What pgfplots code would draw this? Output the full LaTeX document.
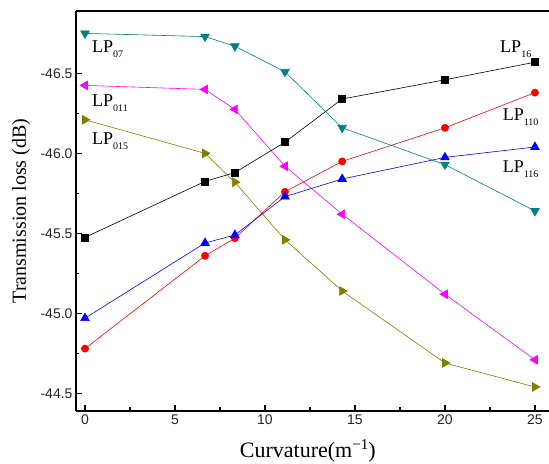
\documentclass[border=0pt]{standalone}
\usepackage{pgfplots}
\pgfplotsset{compat=1.18}
\usepackage{fontspec}
\setmainfont{Liberation Serif}
\newfontfamily\arial{Liberation Sans}
\definecolor{cteal}{RGB}{0,128,128}
\definecolor{colive}{RGB}{128,128,0}
\definecolor{cmag}{RGB}{255,0,255}
\definecolor{cred}{RGB}{255,0,0}
\definecolor{cblue}{RGB}{0,0,255}
\newcommand{\lp}[1]{\fontsize{18}{18}\selectfont LP\raisebox{-5pt}{\fontsize{10}{10}\selectfont #1}}
\begin{document}
\begin{tikzpicture}
\begin{axis}[
  scale only axis, width=473pt, height=400pt,
  xmin=-0.5, xmax=25.78, ymin=-46.89, ymax=-44.39,
  y dir=reverse,
  axis x line*=bottom, axis y line*=left,
  axis line style={-, line width=1.3pt},
  tick align=inside,
  major tick length=6pt, minor tick length=3.5pt,
  every tick/.style={black, line width=1.1pt},
  xtick={0,5,10,15,20,25}, xticklabels={0,5,10,15,20,25},
  ytick={-46.5,-46,-45.5,-45,-44.5}, yticklabels={-46.5,-46.0,-45.5,-45.0,-44.5},
  minor x tick num=1, minor y tick num=1,
  ticklabel style={font=\arial\fontsize{14}{14}\selectfont, text=black!85},
  clip=false,
]
\addplot[cteal, line width=0.6pt, mark=triangle*, mark size=5pt, mark options={rotate=180, solid, fill=cteal}] coordinates {
(0,-46.75) (6.67,-46.73) (8.33,-46.67) (11.11,-46.51) (14.29,-46.16) (20,-45.93) (25,-45.64)};
\addplot[cmag, line width=0.6pt, mark=triangle*, mark size=5pt, mark options={rotate=90, solid, fill=cmag}] coordinates {
(0,-46.425) (6.67,-46.40) (8.33,-46.275) (11.11,-45.92) (14.29,-45.62) (20,-45.12) (25,-44.71)};
\addplot[colive, line width=0.6pt, mark=triangle*, mark size=5pt, mark options={rotate=-90, solid, fill=colive}] coordinates {
(0,-46.21) (6.67,-46.0) (8.33,-45.82) (11.11,-45.46) (14.29,-45.14) (20,-44.69) (25,-44.54)};
\addplot[black, line width=0.6pt, mark=square*, mark size=3.5pt, mark options={solid, fill=black}] coordinates {
(0,-45.475) (6.67,-45.825) (8.33,-45.88) (11.11,-46.07) (14.29,-46.34) (20,-46.46) (25,-46.57)};
\addplot[cred, line width=0.6pt, mark=*, mark size=3.6pt, mark options={solid, fill=cred}] coordinates {
(0,-44.78) (6.67,-45.36) (8.33,-45.47) (11.11,-45.76) (14.29,-45.95) (20,-46.16) (25,-46.38)};
\addplot[cblue, line width=0.6pt, mark=triangle*, mark size=5pt, mark options={solid, fill=cblue}] coordinates {
(0,-44.97) (6.67,-45.44) (8.33,-45.49) (11.11,-45.73) (14.29,-45.84) (20,-45.975) (25,-46.04)};
\draw[line width=1.3pt] (rel axis cs:0,1) -- (rel axis cs:1,1);
\node[anchor=base west, inner sep=0pt] at (axis cs:0.39,-46.63) {\lp{07}};
\node[anchor=base west, inner sep=0pt] at (axis cs:0.39,-46.29) {\lp{011}};
\node[anchor=base west, inner sep=0pt] at (axis cs:0.39,-46.056) {\lp{015}};
\node[anchor=base west, inner sep=0pt] at (axis cs:23.06,-46.63) {\lp{16}};
\node[anchor=base west, inner sep=0pt] at (axis cs:23.2,-46.206) {\lp{110}};
\node[anchor=base west, inner sep=0pt] at (axis cs:23.2,-45.88) {\lp{116}};
\node[rotate=90, inner sep=0pt, font=\fontsize{20}{20}\selectfont] at ([xshift=-55pt]rel axis cs:0,0.5) {Transmission loss (dB)};
\node[anchor=base, inner sep=0pt, font=\fontsize{22}{22}\selectfont] at ([yshift=-47pt]rel axis cs:0.49,0) {Curvature(m\raisebox{8pt}{\fontsize{15}{15}\selectfont\char"2212 1})};
\coordinate (bl) at ([xshift=-76pt, yshift=-53pt]rel axis cs:0,0);
\coordinate (tr) at ([yshift=11pt]rel axis cs:1,1);
\end{axis}
\pgfresetboundingbox
\path (bl) rectangle (tr);
\end{tikzpicture}
\end{document}
